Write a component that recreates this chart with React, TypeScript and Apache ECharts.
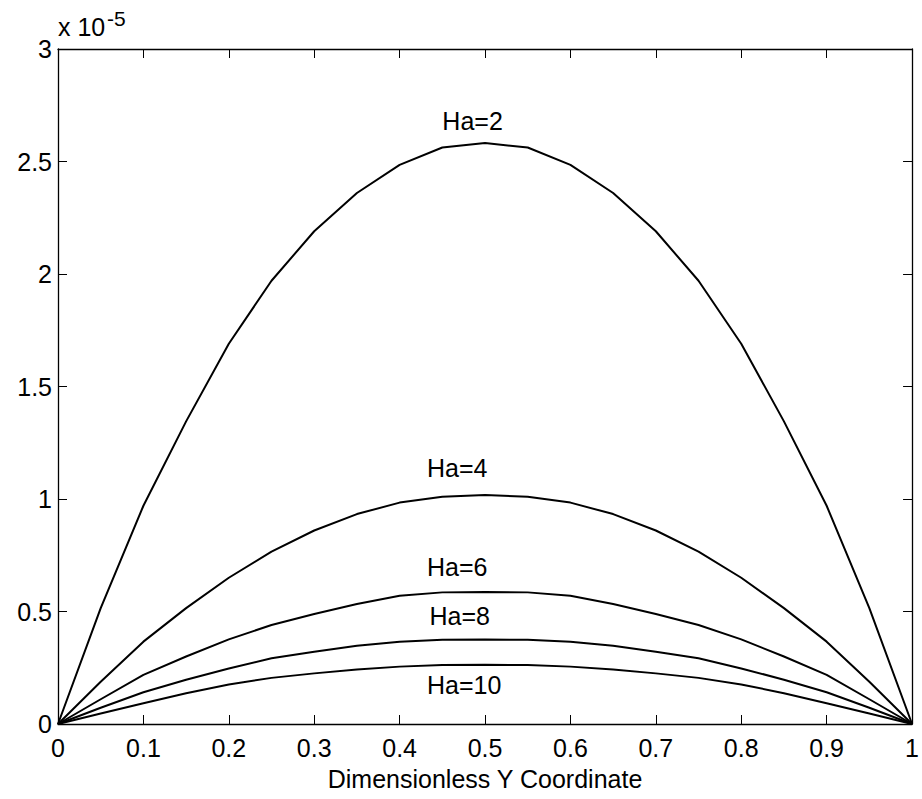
import React, { useEffect, useRef } from "react";
import * as echarts from "echarts";

// Dimensionless Y coordinate (sample points across the channel)
const yCoord = [
  0, 0.05, 0.1, 0.15, 0.2, 0.25, 0.3, 0.35, 0.4, 0.45, 0.5,
  0.55, 0.6, 0.65, 0.7, 0.75, 0.8, 0.85, 0.9, 0.95, 1,
];

// Velocity profiles, in units of 1e-5
const velHa2 = [
  0, 0.515, 0.97, 1.345, 1.69, 1.97, 2.19, 2.36, 2.485, 2.562, 2.582,
  2.562, 2.485, 2.36, 2.19, 1.97, 1.69, 1.345, 0.97, 0.515, 0,
];
const velHa4 = [
  0, 0.188, 0.366, 0.515, 0.65, 0.766, 0.86, 0.933, 0.984, 1.01, 1.018,
  1.01, 0.984, 0.933, 0.86, 0.766, 0.65, 0.515, 0.366, 0.188, 0,
];
const velHa6 = [
  0, 0.11, 0.218, 0.3, 0.376, 0.44, 0.489, 0.533, 0.57, 0.585, 0.587,
  0.585, 0.57, 0.533, 0.489, 0.44, 0.376, 0.3, 0.218, 0.11, 0,
];
const velHa8 = [
  0, 0.072, 0.141, 0.197, 0.247, 0.292, 0.321, 0.348, 0.366, 0.374, 0.376,
  0.374, 0.366, 0.348, 0.321, 0.292, 0.247, 0.197, 0.141, 0.072, 0,
];
const velHa10 = [
  0, 0.047, 0.092, 0.137, 0.176, 0.205, 0.225, 0.242, 0.255, 0.262, 0.263,
  0.262, 0.255, 0.242, 0.225, 0.205, 0.176, 0.137, 0.092, 0.047, 0,
];

const seriesNames = ["Ha=2", "Ha=4", "Ha=6", "Ha=8", "Ha=10"];
const seriesValues = [velHa2, velHa4, velHa6, velHa8, velHa10];

// Curve annotations: [x, y (1e-5), text]
const annotations: [number, number, string][] = [
  [0.45, 2.68, "Ha=2"],
  [0.432, 1.14, "Ha=4"],
  [0.432, 0.7, "Ha=6"],
  [0.435, 0.478, "Ha=8"],
  [0.432, 0.173, "Ha=10"],
];

const xTickLabels = ["0", "0.1", "0.2", "0.3", "0.4", "0.5", "0.6", "0.7", "0.8", "0.9", "1"];
const yTickLabels = ["0", "0.5", "1", "1.5", "2", "2.5", "3"];

const FONT = "Arial, 'Liberation Sans', Helvetica, sans-serif";
const FS = 25;

export default function App() {
  const ref = useRef<HTMLDivElement>(null);

  useEffect(() => {
    if (!ref.current) return;
    const chart = echarts.init(ref.current, null, { renderer: "svg" });

    const tick = { show: true, inside: true, length: 9, lineStyle: { color: "#000", width: 1 } };
    const axisLine = { show: true, onZero: false, lineStyle: { color: "#000", width: 1.3 } };
    const fmtX = (v: number) => xTickLabels[Math.round(v * 10)] ?? "";
    const fmtY = (v: number) => yTickLabels[Math.round(v * 2)] ?? "";

    const lines = seriesValues.map((vals, i) => ({
      name: seriesNames[i],
      type: "line" as const,
      data: yCoord.map((x, k) => [x, vals[k]]),
      symbol: "none",
      lineStyle: { color: "#000", width: 2 },
      itemStyle: { color: "#000" },
      xAxisIndex: 0,
      yAxisIndex: 0,
      silent: true,
    }));

    chart.setOption({
      animation: false,
      backgroundColor: "#fff",
      grid: { left: 58, top: 49, right: 8, bottom: 75, containLabel: false },
      xAxis: [
        {
          type: "value",
          min: 0,
          max: 1,
          interval: 0.1,
          position: "bottom",
          axisLine,
          axisTick: tick,
          splitLine: { show: false },
          axisLabel: {
            color: "#000",
            fontFamily: FONT,
            fontSize: FS,
            margin: 11,
            formatter: fmtX,
          },
          name: "Dimensionless Y Coordinate",
          nameLocation: "middle",
          nameGap: 42,
          nameTextStyle: { color: "#000", fontFamily: FONT, fontSize: FS, verticalAlign: "top" },
        },
        {
          type: "value",
          min: 0,
          max: 1,
          interval: 0.1,
          position: "top",
          axisLine,
          axisTick: tick,
          splitLine: { show: false },
          axisLabel: { show: false },
        },
      ],
      yAxis: [
        {
          type: "value",
          min: 0,
          max: 3,
          interval: 0.5,
          position: "left",
          axisLine,
          axisTick: tick,
          splitLine: { show: false },
          axisLabel: {
            color: "#000",
            fontFamily: FONT,
            fontSize: FS,
            margin: 6,
            formatter: fmtY,
          },
        },
        {
          type: "value",
          min: 0,
          max: 3,
          interval: 0.5,
          position: "right",
          axisLine,
          axisTick: tick,
          splitLine: { show: false },
          axisLabel: { show: false },
        },
      ],
      series: [
        ...lines,
        {
          name: "labels",
          type: "scatter",
          data: annotations.map(([x, y, t]) => ({ value: [x, y], name: t })),
          symbolSize: 0,
          silent: true,
          itemStyle: { color: "#000", opacity: 1 },
          label: {
            show: true,
            position: "right",
            distance: 0,
            color: "#000",
            opacity: 1,
            fontFamily: FONT,
            fontSize: FS,
            formatter: (p: any) => p.name,
          },
        },
      ],
      graphic: [
        {
          type: "text",
          left: 58,
          top: 14,
          style: { text: "x 10", fill: "#000", font: `${FS}px ${FONT}` },
        },
        {
          type: "text",
          left: 107,
          top: 8,
          style: { text: "-5", fill: "#000", font: `21px ${FONT}` },
        },
      ],
    });

    return () => chart.dispose();
  }, []);

  return (
    <div
      ref={ref}
      style={{ position: "fixed", left: 0, top: 0, width: 922, height: 799 }}
    />
  );
}
